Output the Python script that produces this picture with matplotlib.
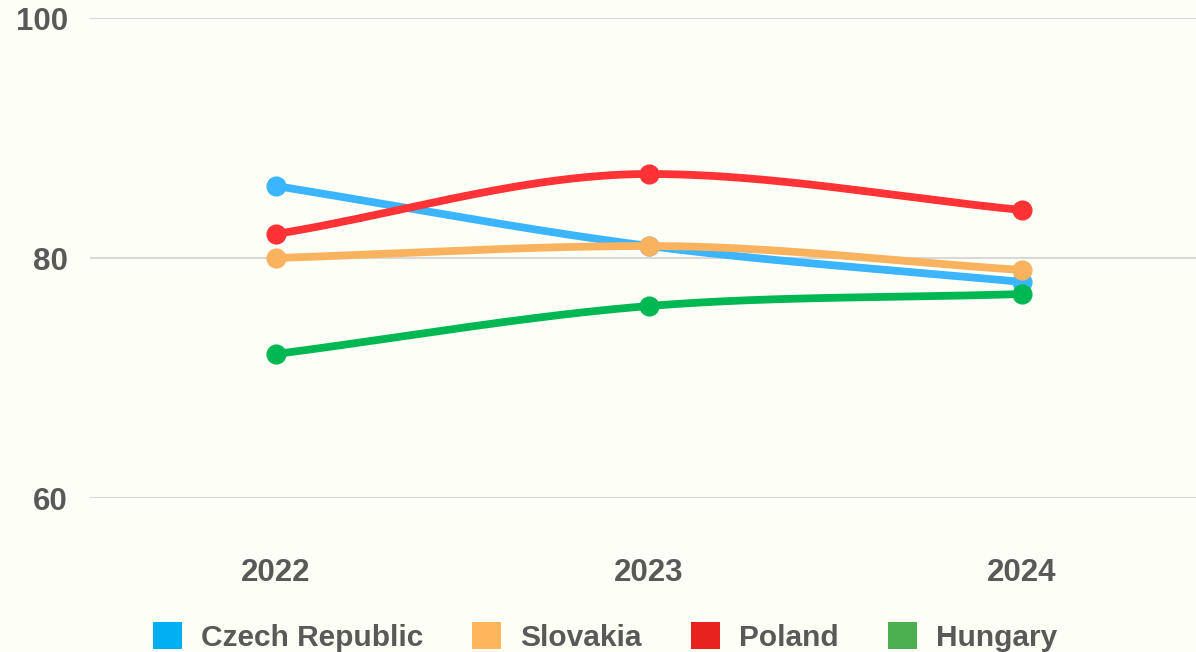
import matplotlib
matplotlib.use('Agg')

import numpy as np
import matplotlib.pyplot as plt
from matplotlib.patches import Patch

# 데이터
years = [2022, 2023, 2024]
czech = [86, 81, 78]
slovakia = [80, 81, 79]
poland = [82, 87, 84]
hungary = [72, 76, 77]

names = ['Czech Republic', 'Slovakia', 'Poland', 'Hungary']
line_colors = ['#3BB5FF', '#F9B25E', '#FF3236', '#00B853']
legend_colors = ['#00B0F0', '#FFB55A', '#E8221F', '#4CAF50']
bg = '#FDFEF5'
txt = '#595959'

plt.rcParams['font.family'] = ['Liberation Sans', 'DejaVu Sans']


def monotone(x, y, n=200):
    # Fritsch-Carlson monotone cubic, only for drawing the smooth line
    x = np.asarray(x, float); y = np.asarray(y, float)
    h = np.diff(x); d = np.diff(y) / h
    m = np.zeros_like(y)
    m[0], m[-1] = d[0], d[-1]
    for i in range(1, len(y) - 1):
        if d[i - 1] * d[i] <= 0:
            m[i] = 0
        else:
            m[i] = (d[i - 1] + d[i]) / 2
    xs, ys = [], []
    for i in range(len(h)):
        t = np.linspace(0, 1, n)
        h00 = 2*t**3 - 3*t**2 + 1; h10 = t**3 - 2*t**2 + t
        h01 = -2*t**3 + 3*t**2; h11 = t**3 - t**2
        xs.append(x[i] + t*h[i])
        ys.append(h00*y[i] + h10*h[i]*m[i] + h01*y[i+1] + h11*h[i]*m[i+1])
    return np.concatenate(xs), np.concatenate(ys)


fig = plt.figure(figsize=(11.96, 6.52), dpi=100, facecolor=bg)
ax = fig.add_axes([90/1196, 1 - 498/652, 1106/1196, 480/652])
ax.set_facecolor(bg)

series = [czech, slovakia, poland, hungary]
zorders = [2, 3, 4, 5]
for vals, c, z in zip(series, line_colors, zorders):
    sx, sy = monotone(years, vals)
    ax.plot(sx, sy, color=c, lw=5.6, solid_capstyle='round', zorder=z)
    ax.plot(years, vals, 'o', color=c, ms=13.5, zorder=z)

ax.set_ylim(60, 100)
ax.set_xlim(2022 - 186/373, 2024 + 174/373)
ax.set_yticks([60, 80, 100])
ax.set_xticks(years)
ax.grid(axis='y', color='#D9D9D9', lw=1.5)
ax.set_axisbelow(True)
for s in ax.spines.values():
    s.set_visible(False)
ax.tick_params(length=0, labelsize=22.5, labelcolor=txt)
ax.tick_params(axis='y', pad=16)
ax.tick_params(axis='x', pad=43)
for lab in ax.get_xticklabels() + ax.get_yticklabels():
    lab.set_fontweight('bold')

handles = [Patch(facecolor=c, edgecolor='none') for c in legend_colors]
leg = fig.legend(handles, names, loc='center', bbox_to_anchor=(605/1196, 15/652),
                 ncol=4, frameon=False, fontsize=21.5, handlelength=0.97,
                 handleheight=1.0, handletextpad=0.64, columnspacing=1.64,
                 borderpad=0)
for t in leg.get_texts():
    t.set_color(txt)
    t.set_fontweight('bold')

fig.savefig('out.png', dpi=100, facecolor=bg)
